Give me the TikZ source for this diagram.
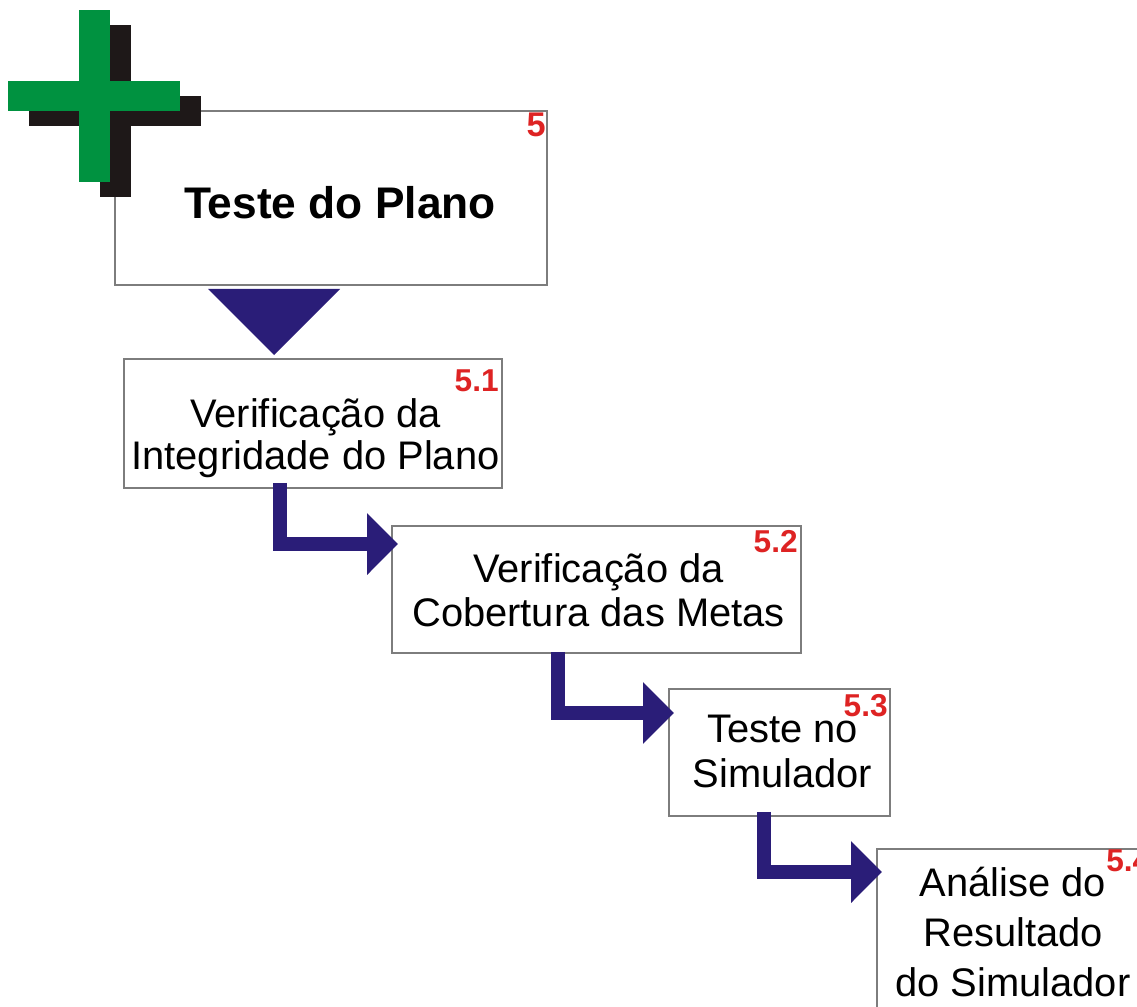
\documentclass[tikz,border=0pt]{standalone}
\usepackage{fontspec}
\setmainfont{Liberation Sans}
\usetikzlibrary{arrows.meta,calc}
\definecolor{crossgreen}{RGB}{0,146,64}
\definecolor{shadowblack}{RGB}{30,24,24}
\definecolor{navyarrow}{RGB}{42,29,120}
\definecolor{numred}{RGB}{222,35,35}
\definecolor{boxgray}{RGB}{125,125,125}
\begin{document}
\begin{tikzpicture}[x=0.02cm,y=-0.02cm,
  box/.style={draw=boxgray, line width=0.8pt, fill=white, rectangle, inner sep=0pt, outer sep=0pt},
  stepnum/.style={text=numred, font=\fontsize{18}{20}\selectfont\bfseries, inner sep=0pt, anchor=south east},
  boxtext/.style={align=center, inner sep=0pt, anchor=south},
  flowarrow/.style={draw=navyarrow, line width=0.28cm, line join=miter, line cap=butt,
    -{Triangle[length=0.62cm,width=1.2cm]}}
]
\useasboundingbox (0,0) rectangle (1137,1007);
\clip (0,0) rectangle (1137,1007);

% boxes
\node[box, minimum width=8.64cm, minimum height=3.48cm] (b5) at (331,198) {};
\node[box, minimum width=7.56cm, minimum height=2.58cm] (b51) at (313,423.5) {};
\node[box, minimum width=8.18cm, minimum height=2.54cm] (b52) at (596.5,589.5) {};
\node[box, minimum width=4.42cm, minimum height=2.54cm] (b53) at (779.5,752.5) {};
\node[box, minimum width=5.66cm, minimum height=3.62cm] (b54) at (1018.5,939.5) {};

% cross logo
\fill[shadowblack] (100,25) rectangle (131,197);
\fill[shadowblack] (29,96) rectangle (201,126);
\fill[crossgreen] (79,10) rectangle (110,182);
\fill[crossgreen] (8,81) rectangle (180,111);

% texts
\node[font=\fontsize{25.2}{30}\selectfont\bfseries, anchor=base, inner sep=0pt] (t5) at (340,218) {Teste do Plano};
\node[boxtext, font=\fontsize{22.7}{23.9}\selectfont] (t51) at (315.5,478.4) {Verificação da\\Integridade do Plano};
\node[boxtext, font=\fontsize{22.7}{25}\selectfont] (t52) at (598.5,627) {Verificação da\\Cobertura das Metas};
\node[boxtext, font=\fontsize{22.7}{25.6}\selectfont] (t53) at (782.5,788) {Teste no\\Simulador};
\node[boxtext, font=\fontsize{22.7}{28.4}\selectfont] (t54) at (1013,997) {Análise do\\Resultado\\do Simulador};

% step numbers
\node[stepnum, font=\fontsize{19.5}{21}\selectfont\bfseries] (n5) at (546,137) {5};
\node[stepnum] (n51) at (499,392) {5.1};
\node[stepnum] (n52) at (798,553) {5.2};
\node[stepnum] (n53) at (888,717) {5.3};
\node[stepnum, anchor=south west] (n54) at (1106,872) {5.4};

% connectors
\fill[navyarrow] ($(b5.south west)+(93,4)$) -- ($(b5.south west)+(225,4)$) -- ($(b51.north west)+(150,-4)$) -- cycle;
\draw[flowarrow] ($(b51.south west)+(156,-5)$) |- ($(b52.north west)+(6,18)$);
\draw[flowarrow] ($(b52.south west)+(166,-1)$) |- ($(b53.north west)+(5,24)$);
\draw[flowarrow] ($(b53.south west)+(95,-4)$) |- ($(b54.north west)+(5,23)$);
\end{tikzpicture}
\end{document}
